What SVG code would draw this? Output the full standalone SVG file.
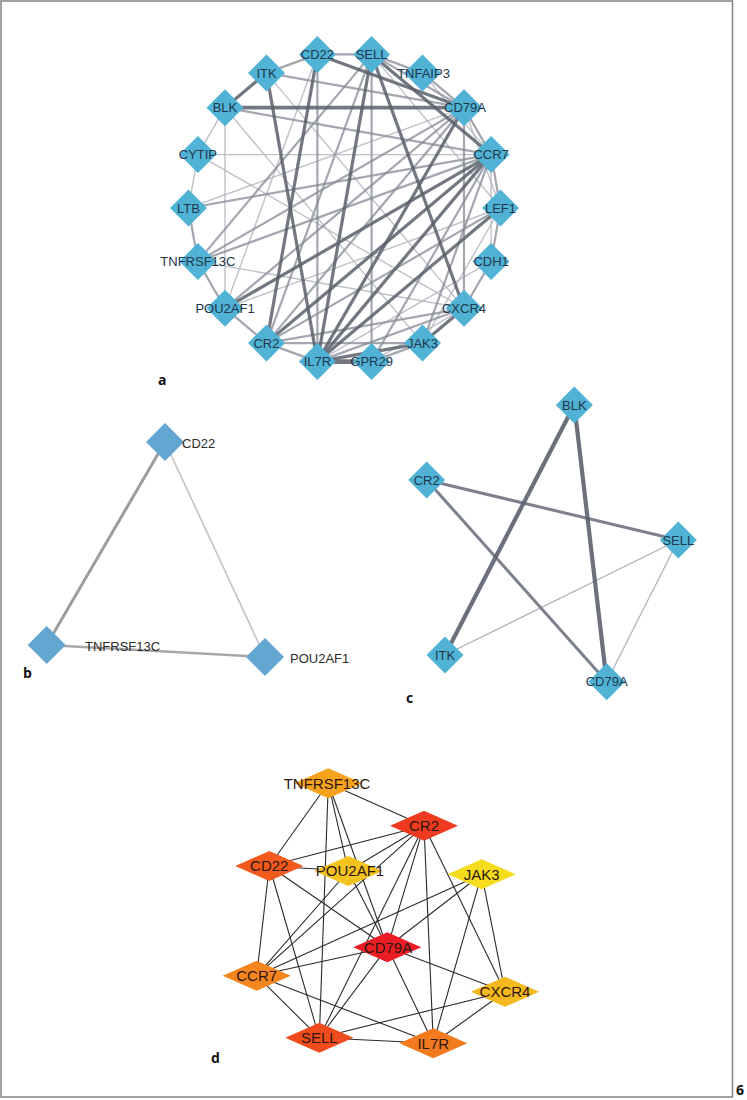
<svg xmlns="http://www.w3.org/2000/svg" xmlns:xlink="http://www.w3.org/1999/xlink" width="747" height="1100" viewBox="0 0 747 1100">
<style>
.bg{fill:#ffffff}
.frame{fill:none;stroke:#8a8a8a;stroke-width:1.6}
.plab{font-family:"Open Sans","Liberation Sans",sans-serif;font-weight:bold;font-size:14px;fill:#111}
.ta{font-family:"Liberation Sans",Arial,sans-serif;font-size:13px;fill:#22364a;text-anchor:middle}
.tb{font-family:"Liberation Sans",Arial,sans-serif;font-size:13px;fill:#2a2a2a}
.td{font-family:"Liberation Sans",Arial,sans-serif;font-size:15px;fill:#2b1610;text-anchor:middle}
.na{fill:#50b3d5}
.nb{fill:#63a6d1}
.et{stroke:#5b5f6b;stroke-width:3.2;stroke-opacity:.85;fill:none}
.em{stroke:#868a95;stroke-width:2.2;stroke-opacity:.75;fill:none}
.el{stroke:#b3b6bd;stroke-width:1.4;stroke-opacity:.85;fill:none}
.bt{stroke:#9d9d9d;stroke-width:3}
.bm{stroke:#a8a8a8;stroke-width:2.4}
.bl{stroke:#c2c2c2;stroke-width:1.6}
.ct{stroke:#5c606e;stroke-width:4.2;stroke-opacity:.9}
.cm{stroke:#6f7382;stroke-width:3;stroke-opacity:.9}
.cl{stroke:#b0b2ba;stroke-width:1.3}
.ed{stroke:#2a2a2a;stroke-width:1.1}
</style>
<defs>
<path id="dA" d="M0,-18.5 L18.5,0 L0,18.5 L-18.5,0Z"/>
<path id="dB" d="M0,-19 L19,0 L0,19 L-19,0Z"/>
<path id="dD" d="M0,-15 L34,0 L0,15 L-34,0Z"/>
</defs>
<rect class="bg" x="0" y="0" width="747" height="1100"/>
<rect class="frame" x="1" y="1" width="731.5" height="1096"/>
<text class="plab" x="740" y="1095" text-anchor="middle" font-size="13">6</text>

<!-- ===== Panel a ===== -->
<g id="panel-a-edges">
<line class="el" x1="225" y1="107.7" x2="197.9" y2="154.6"/>
<line class="el" x1="197.9" y1="154.6" x2="188.5" y2="208"/>
<line class="el" x1="225" y1="107.7" x2="225" y2="308.3"/>
<line class="el" x1="197.9" y1="154.6" x2="464" y2="308.3"/>
<line class="el" x1="422.5" y1="72.9" x2="491.1" y2="154.6"/>
<line class="el" x1="491.1" y1="154.6" x2="491.1" y2="261.4"/>
<line class="el" x1="371.6" y1="54.4" x2="500.5" y2="208"/>
<line class="el" x1="266.5" y1="72.9" x2="464" y2="308.3"/>
<line class="el" x1="188.5" y1="208" x2="464" y2="107.7"/>
<line class="el" x1="225" y1="308.3" x2="500.5" y2="208"/>
<line class="el" x1="317.4" y1="361.6" x2="491.1" y2="261.4"/>
<line class="el" x1="371.6" y1="361.6" x2="464" y2="308.3"/>
<line class="el" x1="197.9" y1="261.4" x2="464" y2="308.3"/>
<line class="el" x1="317.4" y1="54.4" x2="225" y2="308.3"/>
<line class="el" x1="225" y1="107.7" x2="422.5" y2="343.1"/>
<line class="el" x1="197.9" y1="154.6" x2="491.1" y2="154.6"/>
<line class="el" x1="464" y1="107.7" x2="500.5" y2="208"/>
<line class="el" x1="500.5" y1="208" x2="422.5" y2="343.1"/>
<line class="em" x1="317.4" y1="54.4" x2="371.6" y2="54.4"/>
<line class="em" x1="371.6" y1="54.4" x2="464" y2="107.7"/>
<line class="em" x1="266.5" y1="72.9" x2="317.4" y2="54.4"/>
<line class="em" x1="266.5" y1="72.9" x2="464" y2="107.7"/>
<line class="em" x1="225" y1="107.7" x2="491.1" y2="154.6"/>
<line class="em" x1="464" y1="107.7" x2="197.9" y2="261.4"/>
<line class="em" x1="464" y1="107.7" x2="491.1" y2="154.6"/>
<line class="em" x1="491.1" y1="154.6" x2="197.9" y2="261.4"/>
<line class="em" x1="491.1" y1="154.6" x2="188.5" y2="208"/>
<line class="em" x1="266.5" y1="343.1" x2="317.4" y2="361.6"/>
<line class="em" x1="225" y1="308.3" x2="266.5" y2="343.1"/>
<line class="em" x1="197.9" y1="261.4" x2="225" y2="308.3"/>
<line class="em" x1="188.5" y1="208" x2="197.9" y2="261.4"/>
<line class="em" x1="464" y1="308.3" x2="491.1" y2="261.4"/>
<line class="em" x1="491.1" y1="261.4" x2="500.5" y2="208"/>
<line class="em" x1="500.5" y1="208" x2="491.1" y2="154.6"/>
<line class="em" x1="464" y1="107.7" x2="422.5" y2="72.9"/>
<line class="em" x1="371.6" y1="54.4" x2="422.5" y2="72.9"/>
<line class="em" x1="422.5" y1="343.1" x2="371.6" y2="361.6"/>
<line class="em" x1="317.4" y1="361.6" x2="464" y2="308.3"/>
<line class="em" x1="266.5" y1="343.1" x2="422.5" y2="343.1"/>
<line class="em" x1="266.5" y1="343.1" x2="464" y2="308.3"/>
<line class="em" x1="491.1" y1="154.6" x2="371.6" y2="361.6"/>
<line class="em" x1="371.6" y1="54.4" x2="197.9" y2="261.4"/>
<line class="em" x1="500.5" y1="208" x2="266.5" y2="343.1"/>
<line class="em" x1="464" y1="107.7" x2="464" y2="308.3"/>
<line class="em" x1="464" y1="107.7" x2="266.5" y2="343.1"/>
<line class="em" x1="371.6" y1="54.4" x2="266.5" y2="343.1"/>
<line class="em" x1="317.4" y1="54.4" x2="317.4" y2="361.6"/>
<line class="em" x1="491.1" y1="154.6" x2="422.5" y2="343.1"/>
<line class="em" x1="464" y1="107.7" x2="225" y2="308.3"/>
<line class="em" x1="371.6" y1="54.4" x2="371.6" y2="361.6"/>
<line class="et" x1="225" y1="107.7" x2="464" y2="107.7" style="stroke-width:3.8"/>
<line class="et" x1="317.4" y1="54.4" x2="464" y2="107.7"/>
<line class="et" x1="371.6" y1="54.4" x2="491.1" y2="154.6"/>
<line class="et" x1="266.5" y1="72.9" x2="317.4" y2="361.6"/>
<line class="et" x1="317.4" y1="54.4" x2="266.5" y2="343.1"/>
<line class="et" x1="371.6" y1="54.4" x2="317.4" y2="361.6"/>
<line class="et" x1="491.1" y1="154.6" x2="317.4" y2="361.6"/>
<line class="et" x1="491.1" y1="154.6" x2="266.5" y2="343.1"/>
<line class="et" x1="491.1" y1="154.6" x2="225" y2="308.3"/>
<line class="et" x1="464" y1="107.7" x2="317.4" y2="361.6"/>
<line class="et" x1="317.4" y1="361.6" x2="371.6" y2="361.6" style="stroke-width:4.6"/>
<line class="et" x1="317.4" y1="361.6" x2="422.5" y2="343.1"/>
<line class="et" x1="422.5" y1="343.1" x2="464" y2="308.3"/>
<line class="et" x1="371.6" y1="54.4" x2="464" y2="308.3"/>
<line class="et" x1="500.5" y1="208" x2="317.4" y2="361.6"/>
<line class="et" x1="225" y1="107.7" x2="266.5" y2="72.9"/>
</g>
<g id="a-SELL"><use href="#dA" class="na" x="371.6" y="54.4"/><text class="ta" x="371.6" y="59">SELL</text></g>
<g id="a-TNFAIP3"><use href="#dA" class="na" x="422.5" y="72.9"/><text class="ta" x="423.5" y="77.5">TNFAIP3</text></g>
<g id="a-CD79A"><use href="#dA" class="na" x="464" y="107.7"/><text class="ta" x="465" y="112.3">CD79A</text></g>
<g id="a-CCR7"><use href="#dA" class="na" x="491.1" y="154.6"/><text class="ta" x="491.1" y="159.2">CCR7</text></g>
<g id="a-LEF1"><use href="#dA" class="na" x="500.5" y="208"/><text class="ta" x="500.5" y="212.6">LEF1</text></g>
<g id="a-CDH1"><use href="#dA" class="na" x="491.1" y="261.4"/><text class="ta" x="491.1" y="266">CDH1</text></g>
<g id="a-CXCR4"><use href="#dA" class="na" x="464" y="308.3"/><text class="ta" x="464" y="312.9">CXCR4</text></g>
<g id="a-JAK3"><use href="#dA" class="na" x="422.5" y="343.1"/><text class="ta" x="422.5" y="347.7">JAK3</text></g>
<g id="a-GPR29"><use href="#dA" class="na" x="371.6" y="361.6"/><text class="ta" x="371.6" y="366.2">GPR29</text></g>
<g id="a-IL7R"><use href="#dA" class="na" x="317.4" y="361.6"/><text class="ta" x="317.4" y="366.2">IL7R</text></g>
<g id="a-CR2"><use href="#dA" class="na" x="266.5" y="343.1"/><text class="ta" x="266.5" y="347.7">CR2</text></g>
<g id="a-POU2AF1"><use href="#dA" class="na" x="225" y="308.3"/><text class="ta" x="225" y="312.9">POU2AF1</text></g>
<g id="a-TNFRSF13C"><use href="#dA" class="na" x="197.9" y="261.4"/><text class="ta" x="197.9" y="266">TNFRSF13C</text></g>
<g id="a-LTB"><use href="#dA" class="na" x="188.5" y="208"/><text class="ta" x="188.5" y="212.6">LTB</text></g>
<g id="a-CYTIP"><use href="#dA" class="na" x="197.9" y="154.6"/><text class="ta" x="197.9" y="159.2">CYTIP</text></g>
<g id="a-BLK"><use href="#dA" class="na" x="225" y="107.7"/><text class="ta" x="225" y="112.3">BLK</text></g>
<g id="a-ITK"><use href="#dA" class="na" x="266.5" y="72.9"/><text class="ta" x="266.5" y="77.5">ITK</text></g>
<g id="a-CD22"><use href="#dA" class="na" x="317.4" y="54.4"/><text class="ta" x="317.4" y="59">CD22</text></g>
<text class="plab" x="158" y="385">a</text>

<!-- ===== Panel b ===== -->
<g id="panel-b-edges">
<line class="bt" x1="165" y1="442" x2="46.7" y2="645"/>
<line class="bl" x1="165" y1="442" x2="265" y2="657"/>
<line class="bm" x1="46.7" y1="645" x2="265" y2="657"/>
</g>
<g id="b-CD22"><use href="#dB" class="nb" x="165" y="442"/><text class="tb" x="182" y="447.5">CD22</text></g>
<g id="b-TNFRSF13C"><use href="#dB" class="nb" x="46.7" y="645"/><text class="tb" x="85" y="651">TNFRSF13C</text></g>
<g id="b-POU2AF1"><use href="#dB" class="nb" x="265" y="657"/><text class="tb" x="290" y="663">POU2AF1</text></g>
<text class="plab" x="23" y="678">b</text>

<!-- ===== Panel c ===== -->
<g id="panel-c-edges">
<line class="cl" x1="678.3" y1="540" x2="445" y2="655"/>
<line class="cl" x1="678.3" y1="540" x2="606.7" y2="681.7"/>
<line class="cm" x1="426.7" y1="480" x2="678.3" y2="540"/>
<line class="cm" x1="426.7" y1="480" x2="606.7" y2="681.7"/>
<line class="ct" x1="574.3" y1="405" x2="445" y2="655"/>
<line class="ct" x1="574.3" y1="405" x2="606.7" y2="681.7"/>
</g>
<g id="c-BLK"><use href="#dA" class="na" x="574.3" y="405"/><text class="ta" x="574.3" y="409.6">BLK</text></g>
<g id="c-CR2"><use href="#dA" class="na" x="426.7" y="480"/><text class="ta" x="426.7" y="484.6">CR2</text></g>
<g id="c-SELL"><use href="#dA" class="na" x="678.3" y="540"/><text class="ta" x="678.3" y="544.6">SELL</text></g>
<g id="c-ITK"><use href="#dA" class="na" x="445" y="655"/><text class="ta" x="445" y="659.6">ITK</text></g>
<g id="c-CD79A"><use href="#dA" class="na" x="606.7" y="681.7"/><text class="ta" x="606.7" y="686.3">CD79A</text></g>
<text class="plab" x="406" y="703">c</text>

<!-- ===== Panel d ===== -->
<g id="panel-d-edges" class="ed">
<line x1="328.3" y1="783.3" x2="424" y2="825.7"/>
<line x1="328.3" y1="783.3" x2="269.3" y2="866"/>
<line x1="328.3" y1="783.3" x2="319.3" y2="1037.7"/>
<line x1="328.3" y1="783.3" x2="348.3" y2="871"/>
<line x1="328.3" y1="783.3" x2="387.3" y2="947.3"/>
<line x1="424" y1="825.7" x2="269.3" y2="866"/>
<line x1="424" y1="825.7" x2="348.3" y2="871"/>
<line x1="424" y1="825.7" x2="256.7" y2="975.7"/>
<line x1="424" y1="825.7" x2="387.3" y2="947.3"/>
<line x1="424" y1="825.7" x2="319.3" y2="1037.7"/>
<line x1="424" y1="825.7" x2="433.3" y2="1043.3"/>
<line x1="424" y1="825.7" x2="505" y2="991.7"/>
<line x1="269.3" y1="866" x2="348.3" y2="871"/>
<line x1="269.3" y1="866" x2="256.7" y2="975.7"/>
<line x1="269.3" y1="866" x2="319.3" y2="1037.7"/>
<line x1="269.3" y1="866" x2="387.3" y2="947.3"/>
<line x1="348.3" y1="871" x2="256.7" y2="975.7"/>
<line x1="348.3" y1="871" x2="387.3" y2="947.3"/>
<line x1="481.7" y1="874.3" x2="256.7" y2="975.7"/>
<line x1="481.7" y1="874.3" x2="387.3" y2="947.3"/>
<line x1="481.7" y1="874.3" x2="433.3" y2="1043.3"/>
<line x1="481.7" y1="874.3" x2="505" y2="991.7"/>
<line x1="387.3" y1="947.3" x2="256.7" y2="975.7"/>
<line x1="387.3" y1="947.3" x2="319.3" y2="1037.7"/>
<line x1="387.3" y1="947.3" x2="433.3" y2="1043.3"/>
<line x1="387.3" y1="947.3" x2="505" y2="991.7"/>
<line x1="256.7" y1="975.7" x2="319.3" y2="1037.7"/>
<line x1="256.7" y1="975.7" x2="433.3" y2="1043.3"/>
<line x1="319.3" y1="1037.7" x2="433.3" y2="1043.3"/>
<line x1="319.3" y1="1037.7" x2="505" y2="991.7"/>
<line x1="433.3" y1="1043.3" x2="505" y2="991.7"/>
</g>
<g id="d-TNFRSF13C"><use href="#dD" fill="#f7a21d" x="328.3" y="783.3"/><text class="td" x="327" y="788.5">TNFRSF13C</text></g>
<g id="d-CR2"><use href="#dD" fill="#ee3b1f" x="424" y="825.7"/><text class="td" x="424" y="831">CR2</text></g>
<g id="d-CD22"><use href="#dD" fill="#f2591c" x="269.3" y="866"/><text class="td" x="269.3" y="871.3">CD22</text></g>
<g id="d-POU2AF1"><use href="#dD" fill="#f5c320" x="348.3" y="871"/><text class="td" x="350" y="876.3">POU2AF1</text></g>
<g id="d-JAK3"><use href="#dD" fill="#f7dc1d" x="481.7" y="874.3"/><text class="td" x="481.7" y="879.6">JAK3</text></g>
<g id="d-CD79A"><use href="#dD" fill="#ec1c24" x="387.3" y="947.3"/><text class="td" x="388" y="952.6">CD79A</text></g>
<g id="d-CCR7"><use href="#dD" fill="#f5851f" x="256.7" y="975.7"/><text class="td" x="256.7" y="981">CCR7</text></g>
<g id="d-CXCR4"><use href="#dD" fill="#f6b81f" x="505" y="991.7"/><text class="td" x="505" y="997">CXCR4</text></g>
<g id="d-SELL"><use href="#dD" fill="#f04b1c" x="319.3" y="1037.7"/><text class="td" x="319.3" y="1043">SELL</text></g>
<g id="d-IL7R"><use href="#dD" fill="#f47a20" x="433.3" y="1043.3"/><text class="td" x="433.3" y="1048.6">IL7R</text></g>
<text class="plab" x="211" y="1063">d</text>
</svg>
